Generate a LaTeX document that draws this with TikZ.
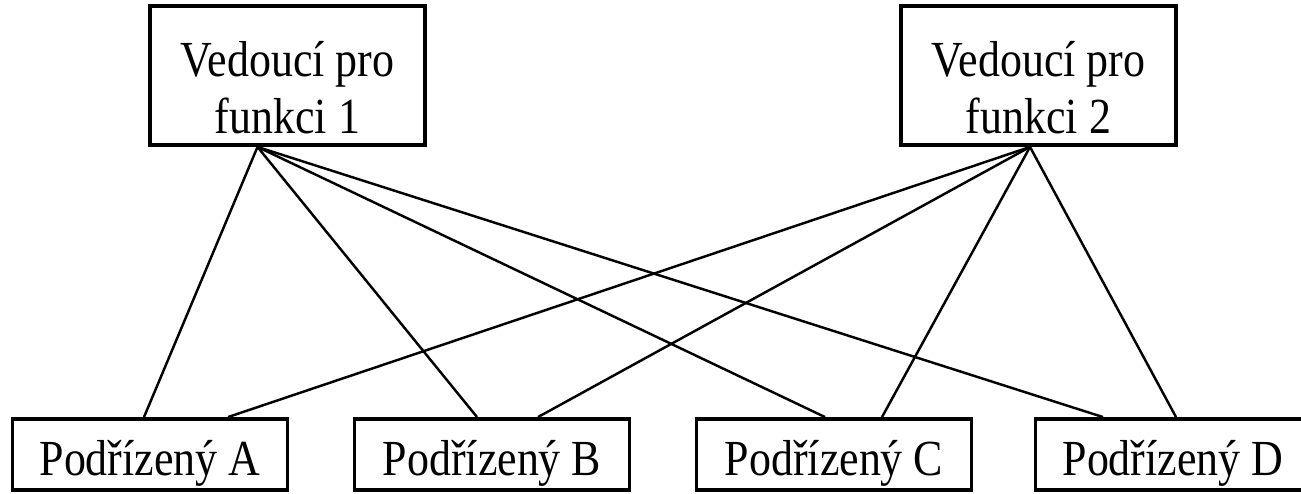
\documentclass[tikz,border=0pt]{standalone}
\usepackage{fontspec}
\setmainfont{Liberation Serif}
\newcommand{\natah}[1]{\scalebox{1}[1.15]{#1}}
\newcommand{\dolu}[1]{\raisebox{-.18cm}[\height][\depth]{\natah{#1}}}
\begin{document}
\begin{tikzpicture}[
  ramecek/.style={draw,line width=2.2pt,minimum width=5.5cm},
  vedouci/.style={ramecek,minimum height=2.78cm},
  podrizeny/.style={ramecek,minimum height=1.42cm,font=\fontsize{25}{30}\selectfont},
  popis/.style={align=center,font=\fontsize{25}{32.4}\selectfont},
  spoj/.style={line width=1.4pt}]
\useasboundingbox (0,0) rectangle (26.02,9.86);
% vedouci
\node[vedouci] (f1) at (5.75,8.35) {};
\node[vedouci] (f2) at (20.77,8.35) {};
\node[popis] (t1) at ([yshift=-.24cm]f1.center) {\natah{Vedoucí pro}\\\natah{funkci 1}};
\node[popis] (t2) at ([yshift=-.24cm]f2.center) {\natah{Vedoucí pro}\\\natah{funkci 2}};
% podrizeni
\node[podrizeny] (a) at (3,.77) {\dolu{Podřízený A}};
\node[podrizeny] (b) at (9.84,.77) {\dolu{Podřízený B}};
\node[podrizeny] (c) at (16.68,.77) {\dolu{Podřízený C}};
\node[podrizeny] (d) at (23.46,.77) {\dolu{Podřízený D}};
\coordinate (s1) at ([xshift=-.6cm]f1.south);
\coordinate (s2) at ([xshift=-.17cm]f2.south);
\draw[spoj] (s1) -- ([xshift=-.12cm]a.north);
\draw[spoj] (s1) -- ([xshift=-.3cm]b.north);
\draw[spoj] (s1) -- ([xshift=-.18cm]c.north);
\draw[spoj] (s1) -- ([xshift=-1.4cm]d.north);
\draw[spoj] (s2) -- ([xshift=1.56cm]a.north);
\draw[spoj] (s2) -- ([xshift=.92cm]b.north);
\draw[spoj] (s2) -- ([xshift=.96cm]c.north);
\draw[spoj] (s2) -- ([xshift=.06cm]d.north);
\end{tikzpicture}
\end{document}
